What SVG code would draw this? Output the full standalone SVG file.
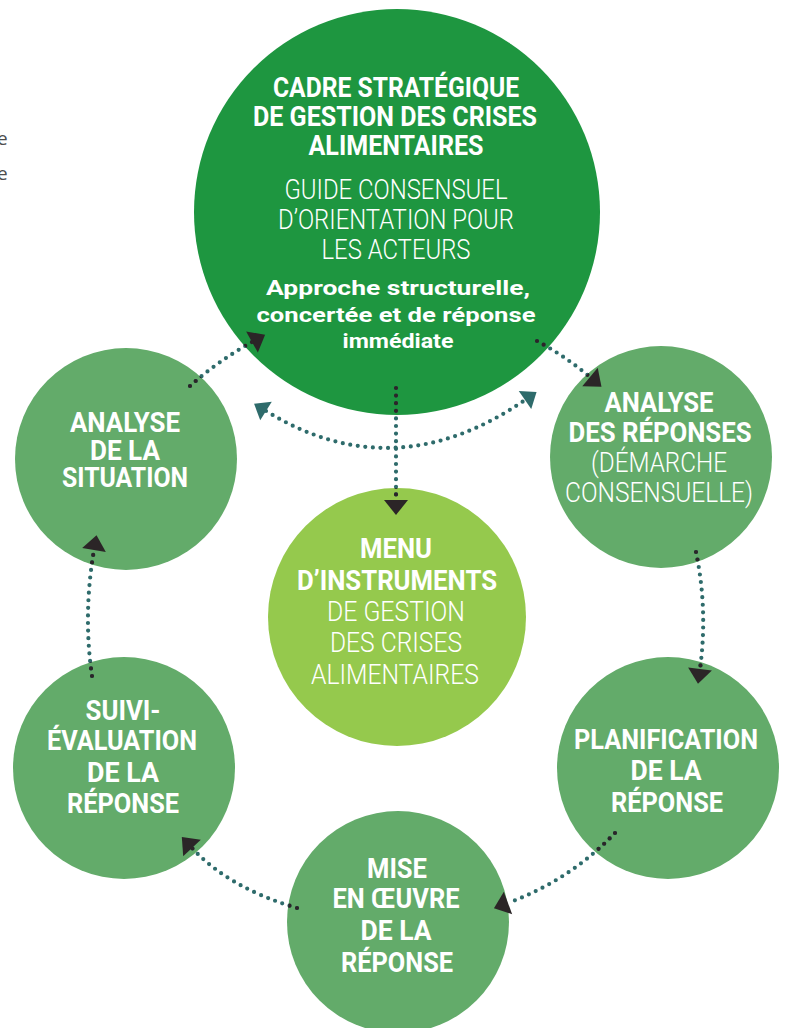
<svg xmlns="http://www.w3.org/2000/svg" xmlns:xlink="http://www.w3.org/1999/xlink" width="786" height="1028" viewBox="0 0 786 1028">
<style>
  .dark{fill:#1e9640}
  .mid{fill:#63ab6a}
  .light{fill:#95c94d}
  text{fill:#ffffff;text-anchor:middle;font-family:Roboto,"Liberation Sans","DejaVu Sans",sans-serif}
  .b{font-weight:700;font-size:28px}
  .l{font-weight:300;font-size:28px}
  .s{font-weight:700;font-size:21px}
  .frag{fill:#4d4d4d;text-anchor:start;font-family:"Open Sans","Noto Sans",sans-serif;font-size:19px}
  .conn{fill:none;stroke:#2e6b6b;stroke-width:4.2;stroke-linecap:round;stroke-dasharray:0 7.6}
  .connd{fill:none;stroke:#2b2527;stroke-width:4.2;stroke-linecap:round;stroke-dasharray:0 7.6}
</style>
<defs>
  <marker id="arrD" markerUnits="userSpaceOnUse" viewBox="-2 -14 20 28" markerWidth="20" markerHeight="28" refX="0" refY="0" orient="auto">
    <path d="M0,-12 L15,0 L0,12 Z" fill="#2b2527"/>
  </marker>
  <marker id="arrT" markerUnits="userSpaceOnUse" viewBox="-2 -14 20 28" markerWidth="20" markerHeight="28" refX="0" refY="0" orient="auto-start-reverse">
    <path d="M0,-11 L14,0 L0,11 Z" fill="#2e6b6b"/>
  </marker>
  <clipPath id="inCircles">
    <circle cx="397" cy="212" r="203"/>
    <circle cx="126" cy="459" r="111"/>
    <circle cx="661" cy="457" r="111"/>
    <circle cx="397" cy="617" r="129"/>
    <circle cx="124" cy="768" r="111"/>
    <circle cx="668" cy="768" r="111"/>
    <circle cx="398" cy="922" r="111"/>
  </clipPath>
</defs>

<text class="frag" x="-3" y="145">e</text>
<text class="frag" x="-3" y="180">e</text>

<g id="node-cadre">
  <circle class="dark" cx="397" cy="212" r="203"/>
  <text class="b" x="396" y="97" textLength="246" lengthAdjust="spacingAndGlyphs">CADRE STRATÉGIQUE</text>
  <text class="b" x="395" y="126" textLength="284" lengthAdjust="spacingAndGlyphs">DE GESTION DES CRISES</text>
  <text class="b" x="396" y="155" textLength="175" lengthAdjust="spacingAndGlyphs">ALIMENTAIRES</text>
  <text class="l" x="396" y="199" textLength="223" lengthAdjust="spacingAndGlyphs">GUIDE CONSENSUEL</text>
  <text class="l" x="396" y="229" textLength="236" lengthAdjust="spacingAndGlyphs">D’ORIENTATION POUR</text>
  <text class="l" x="396" y="259" textLength="149" lengthAdjust="spacingAndGlyphs">LES ACTEURS</text>
  <text class="s" x="398" y="295" textLength="264" lengthAdjust="spacingAndGlyphs">Approche structurelle,</text>
  <text class="s" x="396" y="322" textLength="279" lengthAdjust="spacingAndGlyphs">concertée et de réponse</text>
  <text class="s" x="398" y="348" textLength="111" lengthAdjust="spacingAndGlyphs">immédiate</text>
</g>

<g id="node-analyse-situation">
  <circle class="mid" cx="126" cy="459" r="111"/>
  <text class="b" x="125" y="432" textLength="110" lengthAdjust="spacingAndGlyphs">ANALYSE</text>
  <text class="b" x="125" y="460" textLength="70" lengthAdjust="spacingAndGlyphs">DE LA</text>
  <text class="b" x="125" y="487" textLength="126" lengthAdjust="spacingAndGlyphs">SITUATION</text>
</g>

<g id="node-analyse-reponses">
  <circle class="mid" cx="661" cy="457" r="111"/>
  <text class="b" x="659" y="412" textLength="109" lengthAdjust="spacingAndGlyphs">ANALYSE</text>
  <text class="b" x="660" y="442" textLength="183" lengthAdjust="spacingAndGlyphs">DES RÉPONSES</text>
  <text class="l" x="659" y="472" textLength="136" lengthAdjust="spacingAndGlyphs">(DÉMARCHE</text>
  <text class="l" x="659" y="502" textLength="188" lengthAdjust="spacingAndGlyphs">CONSENSUELLE)</text>
</g>

<g id="node-menu">
  <circle class="light" cx="397" cy="617" r="129"/>
  <text class="b" x="396" y="558" textLength="72" lengthAdjust="spacingAndGlyphs">MENU</text>
  <text class="b" x="397" y="590" textLength="200" lengthAdjust="spacingAndGlyphs">D’INSTRUMENTS</text>
  <text class="l" x="396" y="621" textLength="138" lengthAdjust="spacingAndGlyphs">DE GESTION</text>
  <text class="l" x="396" y="652" textLength="132" lengthAdjust="spacingAndGlyphs">DES CRISES</text>
  <text class="l" x="395" y="684" textLength="168" lengthAdjust="spacingAndGlyphs">ALIMENTAIRES</text>
</g>

<g id="node-suivi">
  <circle class="mid" cx="124" cy="768" r="111"/>
  <text class="b" x="123" y="720" textLength="75" lengthAdjust="spacingAndGlyphs">SUIVI-</text>
  <text class="b" x="122" y="750" textLength="150" lengthAdjust="spacingAndGlyphs">ÉVALUATION</text>
  <text class="b" x="123" y="782" textLength="72" lengthAdjust="spacingAndGlyphs">DE LA</text>
  <text class="b" x="123" y="813" textLength="112" lengthAdjust="spacingAndGlyphs">RÉPONSE</text>
</g>

<g id="node-planification">
  <circle class="mid" cx="668" cy="768" r="111"/>
  <text class="b" x="666" y="749" textLength="184" lengthAdjust="spacingAndGlyphs">PLANIFICATION</text>
  <text class="b" x="666" y="780" textLength="71" lengthAdjust="spacingAndGlyphs">DE LA</text>
  <text class="b" x="667" y="812" textLength="112" lengthAdjust="spacingAndGlyphs">RÉPONSE</text>
</g>

<g id="node-mise-en-oeuvre">
  <circle class="mid" cx="398" cy="922" r="111"/>
  <text class="b" x="397" y="878" textLength="60" lengthAdjust="spacingAndGlyphs">MISE</text>
  <text class="b" x="396" y="908" textLength="127" lengthAdjust="spacingAndGlyphs">EN ŒUVRE</text>
  <text class="b" x="396" y="940" textLength="71" lengthAdjust="spacingAndGlyphs">DE LA</text>
  <text class="b" x="397" y="972" textLength="112" lengthAdjust="spacingAndGlyphs">RÉPONSE</text>
</g>

<g id="connectors">
  <path class="conn" d="M190,386 Q218,361 252,342" marker-end="url(#arrD)"/>
  <path class="conn" d="M537,341 Q565,356 590,377" marker-end="url(#arrD)"/>
  <path class="conn" d="M696,552 Q708,610 700,669" marker-end="url(#arrD)"/>
  <path class="conn" d="M615,833 Q570,880 508,903" marker-end="url(#arrD)"/>
  <path class="conn" d="M297,908 Q229,888 192,848" marker-end="url(#arrD)"/>
  <path class="conn" d="M92,676 Q83,614 94,550" marker-end="url(#arrD)"/>
  <path class="conn" d="M396,388 L396,500" marker-end="url(#arrD)"/>
  <path class="conn" d="M266,411 Q394,490 525,400" marker-start="url(#arrT)" marker-end="url(#arrT)"/>
  <g clip-path="url(#inCircles)">
    <path class="connd" d="M190,386 Q218,361 252,342"/>
    <path class="connd" d="M537,341 Q565,356 590,377"/>
    <path class="connd" d="M696,552 Q708,610 700,669"/>
    <path class="connd" d="M615,833 Q570,880 508,903"/>
    <path class="connd" d="M297,908 Q229,888 192,848"/>
    <path class="connd" d="M92,676 Q83,614 94,550"/>
    <path class="connd" d="M396,388 L396,500"/>
  </g>
</g>
</svg>
